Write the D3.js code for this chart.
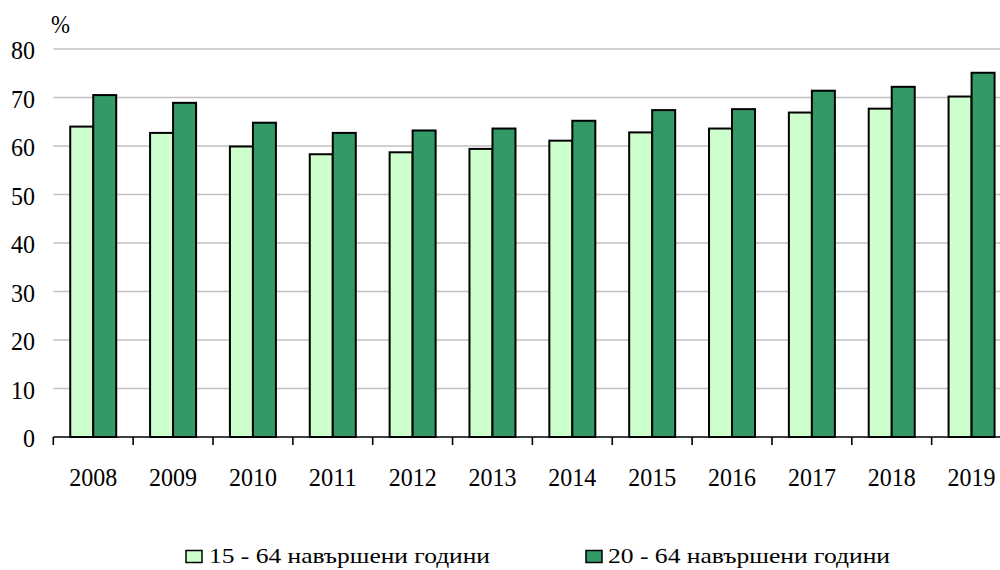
<!DOCTYPE html>
<html>
<head>
<meta charset="utf-8">
<script src="https://cdn.jsdelivr.net/npm/d3@7/dist/d3.min.js"></script>
<style>
  html, body { margin: 0; padding: 0; background: #fff; }
  svg { display: block; }
</style>
</head>
<body>
<svg id="chart" width="1000" height="570"></svg>
<script>
const years = ["2008","2009","2010","2011","2012","2013","2014","2015","2016","2017","2018","2019"];
const series1Name = "15 - 64 навършени години";
const series2Name = "20 - 64 навършени години";
const series1 = [64.0, 62.7, 59.9, 58.3, 58.7, 59.4, 61.1, 62.8, 63.6, 66.9, 67.7, 70.2];
const series2 = [70.5, 68.9, 64.8, 62.7, 63.2, 63.6, 65.2, 67.4, 67.6, 71.4, 72.2, 75.1];
const yTicks = [0, 10, 20, 30, 40, 50, 60, 70, 80];
const unitLabel = "%";

const colors = ["#ccffcc", "#339966"];
const FONT = "'Liberation Serif', 'Times New Roman', serif";
const svg = d3.select("#chart").style("font-family", FONT);

const left = 53.3, step = 79.85;
const x = d3.scaleBand().domain(years).range([left, left + step * years.length]).padding(0);
const y = d3.scaleLinear().domain([0, 80]).range([437, 49]);

const groupW = 46;
const x1 = d3.scaleBand().domain([0, 1]).range([(x.bandwidth() - groupW) / 2, (x.bandwidth() + groupW) / 2]).padding(0);

// gridlines
svg.append("g").selectAll("line").data(yTicks.filter(d => d > 0)).join("line")
  .attr("x1", left).attr("x2", 1000)
  .attr("y1", d => y(d)).attr("y2", d => y(d))
  .attr("stroke", "#c0c0c0").attr("stroke-width", 1.6);

// y tick labels
svg.append("g").selectAll("text").data(yTicks).join("text")
  .attr("x", 35).attr("y", d => y(d)).attr("dy", "0.41em")
  .attr("text-anchor", "end").attr("font-size", 25).attr("font-family", FONT)
  .attr("textLength", d => String(d).length * 12).attr("lengthAdjust", "spacingAndGlyphs")
  .text(d => d);

svg.append("text").attr("x", 51).attr("y", 33).attr("font-size", 25).attr("font-family", FONT)
  .attr("textLength", 19).attr("lengthAdjust", "spacingAndGlyphs").text(unitLabel);

// bars
const data = years.map((yr, i) => ({ yr, vals: [series1[i], series2[i]] }));
const groups = svg.append("g").selectAll("g").data(data).join("g")
  .attr("transform", d => `translate(${x(d.yr)},0)`);
groups.selectAll("rect").data(d => d.vals.map((v, k) => ({ v, k }))).join("rect")
  .attr("x", d => x1(d.k)).attr("width", x1.bandwidth())
  .attr("y", d => y(d.v)).attr("height", d => y(0) - y(d.v))
  .attr("fill", d => colors[d.k]).attr("stroke", "#000").attr("stroke-width", 2);

// x axis
svg.append("line").attr("x1", left).attr("x2", 1000).attr("y1", y(0)).attr("y2", y(0))
  .attr("stroke", "#000").attr("stroke-width", 1.6);
svg.append("g").selectAll("line").data(years).join("line")
  .attr("x1", d => x(d)).attr("x2", d => x(d))
  .attr("y1", y(0)).attr("y2", y(0) + 8)
  .attr("stroke", "#000").attr("stroke-width", 1.6);
svg.append("g").selectAll("text").data(years).join("text")
  .attr("x", d => x(d) + x.bandwidth() / 2).attr("y", 485.5)
  .attr("text-anchor", "middle").attr("font-size", 26).attr("font-family", FONT)
  .attr("textLength", 48).attr("lengthAdjust", "spacingAndGlyphs")
  .text(d => d);

// legend
const legend = [
  { name: series1Name, color: colors[0], bx: 186, tx: 209, tw: 281 },
  { name: series2Name, color: colors[1], bx: 586, tx: 608, tw: 282 }
];
const lg = svg.append("g").selectAll("g").data(legend).join("g");
lg.append("rect").attr("x", d => d.bx).attr("y", 550.5).attr("width", 16).attr("height", 12)
  .attr("fill", d => d.color).attr("stroke", "#000").attr("stroke-width", 1.5);
lg.append("text").attr("x", d => d.tx).attr("y", 563).attr("font-size", 21).attr("font-family", FONT)
  .attr("textLength", d => d.tw).attr("lengthAdjust", "spacingAndGlyphs")
  .text(d => d.name);
</script>
</body>
</html>
